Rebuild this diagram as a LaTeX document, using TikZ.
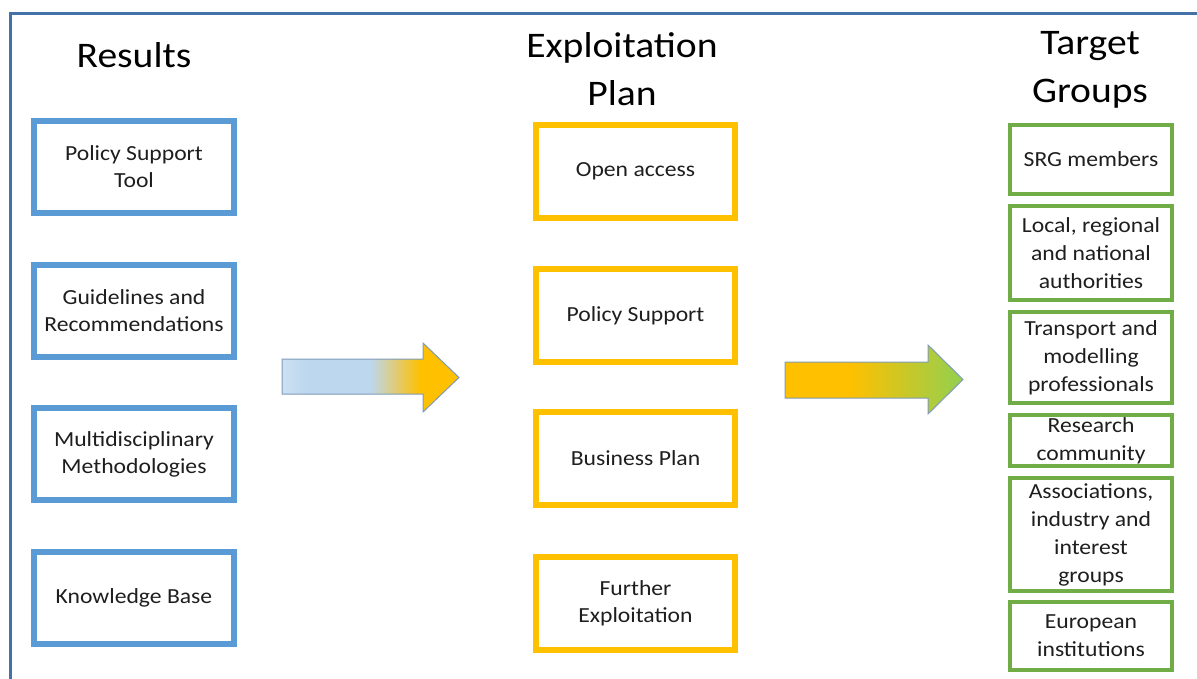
\documentclass[tikz,border=0pt]{standalone}
\usepackage{fontspec}
\setmainfont[FakeStretch=1.1]{Carlito}
\usetikzlibrary{shadings}
\definecolor{frameblue}{HTML}{4472A8}
\definecolor{resblue}{HTML}{5B9BD5}
\definecolor{plangold}{HTML}{FFC000}
\definecolor{tggreen}{HTML}{70AD47}
\definecolor{lightblue}{HTML}{BDD7EE}
\definecolor{lightblueA}{HTML}{CCE0F2}
\definecolor{arrgreen}{HTML}{92D050}
\definecolor{arrline}{HTML}{7F9BB8}
\definecolor{txt}{HTML}{1E1E1E}
\pgfdeclarehorizontalshading{shadeA}{100bp}{color(0bp)=(lightblueA); color(25bp)=(lightblueA); color(32bp)=(lightblue); color(50bp)=(lightblue); color(64bp)=(plangold); color(100bp)=(plangold)}
\pgfdeclarehorizontalshading{shadeB}{100bp}{color(0bp)=(plangold); color(25bp)=(plangold); color(43bp)=(plangold); color(75bp)=(arrgreen); color(100bp)=(arrgreen)}
\tikzset{
  title/.style={font=\fontsize{36}{48}\selectfont, text=black, inner sep=0pt, anchor=base},
  resbox/.style={draw=resblue, line width=6pt, minimum width=200pt, minimum height=92pt, align=center, font=\fontsize{21.5}{27}\selectfont, text=txt, inner sep=0pt},
  planbox/.style={draw=plangold, line width=6pt, minimum width=199pt, minimum height=93pt, align=center, font=\fontsize{21.5}{27}\selectfont, text=txt, inner sep=0pt},
  tgbox/.style={draw=tggreen, line width=4pt, minimum width=162pt, align=center, font=\fontsize{21.5}{28}\selectfont, text=txt, inner sep=0pt},
  bigarrow/.style={draw=arrline, line width=1pt}
}
\begin{document}
\begin{tikzpicture}[x=1pt,y=-1pt]
\useasboundingbox (0,0) rectangle (1197,678);
% frame
\draw[frameblue, line width=3pt] (10,700) -- (10,13.5) -- (1220,13.5);
% titles
\node[title] (t1) at (134,67) {Results};
\node[title] (t2a) at (622,57) {Exploitation};
\node[title] (t2b) at (622,105) {Plan};
\node[title] (t3a) at (1090,54) {Target};
\node[title] (t3b) at (1090,102) {Groups};
% results
\node[resbox] (r1) at (134,166.5) {Policy Support\\Tool};
\node[resbox] (r2) at (134,311) {Guidelines and\\Recommendations};
\node[resbox] (r3) at (134,454) {Multidisciplinary\\Methodologies};
\node[resbox] (r4) at (134,598) {Knowledge Base};
% plan
\node[planbox] (p1) at (635.5,171) {Open access};
\node[planbox] (p2) at (635.5,315.5) {Policy Support};
\node[planbox] (p3) at (635.5,458) {Business Plan};
\node[planbox] (p4) at (635.5,603) {Further\\Exploitation};
% target groups
\node[tgbox, minimum height=69pt] (g1) at (1091,159.5) {SRG members};
\node[tgbox, minimum height=94pt] (g2) at (1091,253) {Local, regional\\and national\\authorities};
\node[tgbox, minimum height=91pt] (g3) at (1091,357.5) {Transport and\\modelling\\professionals};
\node[tgbox, minimum height=51pt] (g4) at (1091,440.5) {Research\\community};
\node[tgbox, minimum height=113pt] (g5) at (1091,534.5) {Associations,\\industry and\\interest\\groups};
\node[tgbox, minimum height=68pt] (g6) at (1091,636) {European\\institutions};
% arrows
\shade[shading=shadeA, bigarrow] (282,359) -- (423,359) -- (423,343) -- (459,377.5) -- (423,412) -- (423,394) -- (282,394) -- cycle;
\shade[shading=shadeB, bigarrow] (785,362) -- (928,362) -- (928,345) -- (963,379.5) -- (928,414) -- (928,398) -- (785,398) -- cycle;
\end{tikzpicture}
\end{document}
